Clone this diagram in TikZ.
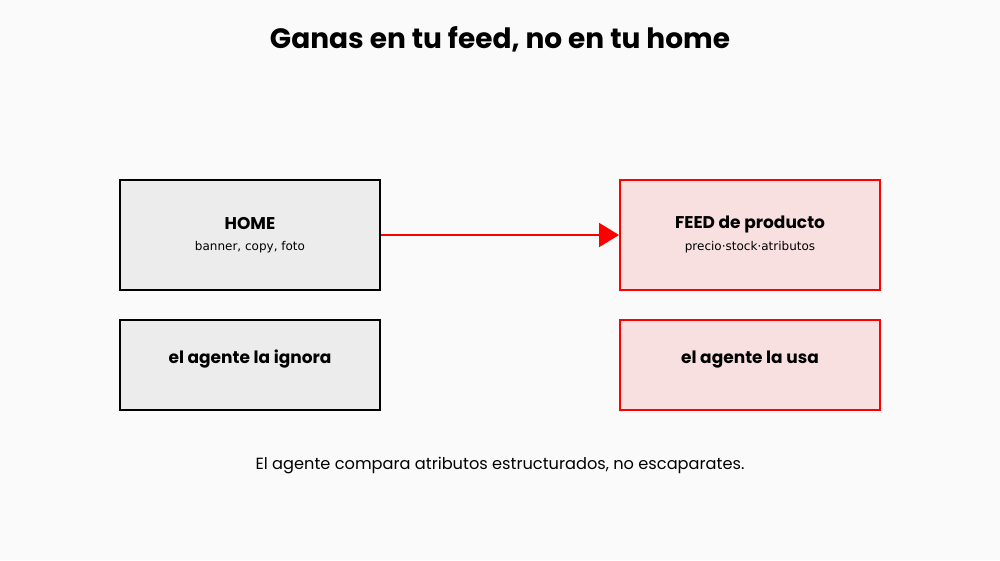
\documentclass[tikz,border=0pt]{standalone}
\usepackage{fontspec}
\setmainfont{Poppins}
\newfontfamily\smallfont{DejaVu Sans}
\usetikzlibrary{arrows.meta}
\definecolor{bg}{HTML}{FAFAFA}
\definecolor{grayfill}{HTML}{ECECEC}
\definecolor{pinkfill}{HTML}{F8E0E1}
\definecolor{redline}{HTML}{FF0000}
\tikzset{
  boxgray/.style={draw=black, fill=grayfill, line width=2pt, minimum width=260pt, minimum height=110pt, inner sep=0pt},
  boxred/.style={draw=redline, fill=pinkfill, line width=2pt, minimum width=260pt, minimum height=110pt, inner sep=0pt},
  shortbox/.style={minimum height=90pt},
  headtxt/.style={font=\fontsize{17}{20}\selectfont\bfseries, text=black},
  subtxt/.style={font=\smallfont\fontsize{12}{14}\selectfont, text=black},
}
\begin{document}
\begin{tikzpicture}[x=1pt,y=-1pt]
\fill[bg] (0,0) rectangle (1000,560);
\useasboundingbox (0,0) rectangle (1000,560);
\node[font=\fontsize{28}{32}\selectfont\bfseries] (title) at (500,39) {Ganas en tu feed, no en tu home};
\node[boxgray] (home) at (250,235) {};
\node[boxred] (feed) at (750,235) {};
\node[boxgray, shortbox] (ignora) at (250,365) {};
\node[boxred, shortbox] (usa) at (750,365) {};
\node[headtxt] (homet) at (250,224) {HOME};
\node[subtxt] (homes) at (250,247) {banner, copy, foto};
\node[headtxt] (feedt) at (750,224) {FEED de producto};
\node[subtxt] (feeds) at (750,247) {precio·stock·atributos};
\node[headtxt] at (250,359.5) {el agente la ignora};
\node[headtxt] at (750,359.5) {el agente la usa};
\draw[redline, line width=2pt, -{Triangle[length=20pt,width=24pt]}] (home.east) -- (feed.west);
\node[font=\fontsize{16.2}{19}\selectfont] (foot) at (500,466) {El agente compara atributos estructurados, no escaparates.};
\end{tikzpicture}
\end{document}
